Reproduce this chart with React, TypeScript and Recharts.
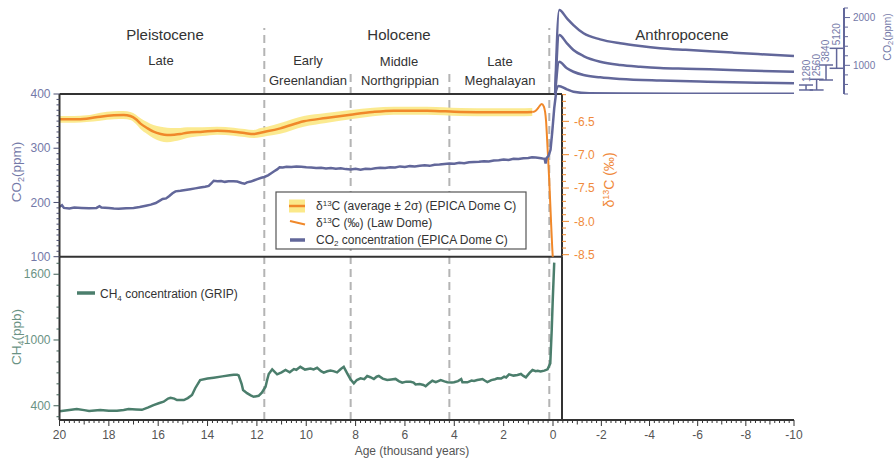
import React from 'react';
import { ComposedChart, Line, Area, Scatter, ErrorBar, XAxis, YAxis, ReferenceLine } from 'recharts';

const FONT = '"Liberation Sans", Arial, Helvetica, sans-serif';

// ---------------- data (age in thousand years BP) ----------------
const co2Epica: [number, number][] = [
  [20.0, 192], [19.9, 195], [19.82, 190], [19.6, 189], [19.4, 190.5], [19.1, 190], [18.8, 189.5], [18.5, 190],
  [18.38, 193], [18.3, 190.5], [18.0, 190], [17.8, 189], [17.6, 188.5], [17.3, 189.5], [17.0, 190], [16.75, 191.5],
  [16.5, 194], [16.3, 196], [16.1, 199], [15.95, 203], [15.82, 206.5], [15.68, 207.5], [15.55, 212], [15.42, 217],
  [15.3, 220.5], [15.1, 221.5], [14.9, 223], [14.7, 224.5], [14.5, 226], [14.3, 227.5], [14.1, 229], [13.95, 230.5],
  [13.85, 235], [13.75, 240], [13.6, 239], [13.45, 239.5], [13.3, 238], [13.15, 239], [12.95, 239], [12.8, 238.5],
  [12.62, 236], [12.5, 234.5], [12.4, 237], [12.25, 238.5], [12.13, 240.5], [11.98, 243], [11.82, 245.5], [11.7, 247],
  [11.55, 250], [11.42, 254], [11.3, 257.5], [11.18, 261], [11.08, 265], [10.95, 264.5], [10.8, 266], [10.6, 265.5],
  [10.4, 266.5], [10.2, 266], [10.0, 265], [9.8, 264.5], [9.6, 263.5], [9.4, 264], [9.2, 262.5], [9.0, 263.5],
  [8.8, 262], [8.6, 263], [8.4, 261.5], [8.2, 261], [8.0, 262], [7.8, 260.5], [7.6, 262], [7.4, 261.5], [7.2, 263],
  [7.0, 264], [6.8, 263.5], [6.6, 265], [6.4, 264.5], [6.2, 266.5], [6.0, 265.5], [5.8, 267], [5.6, 266.5],
  [5.4, 267.5], [5.2, 268.5], [5.0, 267.5], [4.8, 269.5], [4.6, 270], [4.4, 271], [4.2, 272], [4.0, 271.5],
  [3.8, 273], [3.6, 272.5], [3.4, 274], [3.2, 274.5], [3.0, 275], [2.8, 276], [2.6, 275.5], [2.4, 277.5], [2.2, 278],
  [2.0, 279], [1.8, 278.5], [1.6, 280.5], [1.4, 280], [1.2, 281.5], [1.0, 282], [0.85, 283.5], [0.7, 283],
  [0.55, 282], [0.42, 281], [0.34, 280.5], [0.3, 272], [0.26, 282], [0.18, 286], [0.1, 297], [0.03, 330],
  [-0.05, 374], [-0.12, 400],
];

// [age, mean δ13C, 2σ]
const d13cEpica: [number, number, number][] = [
  [20, -6.47, 0.05], [19.4, -6.47, 0.05], [18.9, -6.46, 0.05], [18.35, -6.43, 0.06], [17.8, -6.41, 0.06],
  [17.4, -6.405, 0.06], [17.13, -6.42, 0.06], [16.9, -6.47, 0.07], [16.73, -6.53, 0.08], [16.45, -6.6, 0.09],
  [16.19, -6.655, 0.1], [15.9, -6.69, 0.11], [15.64, -6.705, 0.11], [15.35, -6.7, 0.1], [15.1, -6.69, 0.09],
  [14.83, -6.67, 0.08], [14.2, -6.655, 0.065], [13.61, -6.64, 0.06], [12.94, -6.655, 0.06], [12.5, -6.675, 0.06],
  [12.13, -6.69, 0.06], [11.86, -6.67, 0.07], [11.59, -6.65, 0.07], [11.05, -6.605, 0.08], [10.1, -6.5, 0.08],
  [9.2, -6.45, 0.075], [8.2, -6.4, 0.07], [7.3, -6.36, 0.065], [6.45, -6.34, 0.06], [5.1, -6.34, 0.06],
  [3.75, -6.36, 0.06], [2.4, -6.365, 0.06], [1.5, -6.365, 0.06], [0.84, -6.36, 0.06],
];

const d13cLawDome: [number, number][] = [
  [0.84, -6.36], [0.7, -6.34], [0.6, -6.3], [0.46, -6.24], [0.37, -6.28], [0.28, -6.5], [0.22, -6.9],
  [0.15, -7.4], [0.08, -8.0], [0.03, -8.4], [-0.02, -8.7],
];

const ch4Grip: [number, number][] = [
  [20, 349], [19.6, 362], [19.3, 370], [19.0, 360], [18.8, 352], [18.35, 361], [18.0, 355], [17.67, 354],
  [17.4, 362], [17.2, 370], [16.9, 366], [16.66, 363], [16.4, 385], [16.19, 406], [15.95, 425], [15.78, 437],
  [15.6, 466], [15.5, 473], [15.35, 465], [15.24, 452], [14.96, 452], [14.8, 470], [14.63, 498], [14.5, 560],
  [14.3, 635], [14.0, 648], [13.75, 656], [13.4, 668], [13.1, 678], [12.94, 683], [12.8, 683], [12.74, 677],
  [12.62, 600], [12.56, 543], [12.4, 515], [12.25, 495], [12.13, 482], [11.93, 491], [11.8, 520], [11.65, 574],
  [11.58, 640], [11.52, 690], [11.38, 732], [11.18, 687], [11.0, 705], [10.84, 726], [10.67, 705], [10.5, 735],
  [10.4, 728], [10.24, 755], [10.05, 730], [9.83, 740], [9.7, 732], [9.56, 746], [9.4, 715], [9.29, 703],
  [9.15, 715], [9.02, 722], [8.9, 716], [8.75, 705], [8.6, 735], [8.48, 755], [8.34, 696], [8.2, 640],
  [8.07, 605], [7.95, 635], [7.8, 650], [7.65, 643], [7.53, 671], [7.4, 660], [7.26, 644], [7.15, 665],
  [7.06, 672], [6.9, 648], [6.72, 635], [6.55, 640], [6.38, 645], [6.25, 625], [6.11, 610], [5.95, 620],
  [5.77, 619], [5.65, 612], [5.57, 595], [5.4, 598], [5.25, 590], [5.16, 578], [5.05, 600], [4.89, 628],
  [4.75, 615], [4.55, 635], [4.4, 622], [4.28, 614], [4.1, 612], [4.01, 614], [3.85, 625], [3.72, 644],
  [3.67, 615], [3.47, 614], [3.3, 630], [3.2, 626], [3.07, 635], [2.95, 640], [2.86, 644], [2.75, 628],
  [2.66, 616], [2.5, 634], [2.35, 642], [2.25, 650], [2.1, 648], [1.98, 665], [1.9, 658], [1.78, 687],
  [1.6, 675], [1.44, 680], [1.3, 690], [1.2, 672], [1.1, 659], [0.95, 700], [0.83, 726], [0.7, 715],
  [0.62, 720], [0.5, 712], [0.35, 720], [0.22, 732], [0.11, 787], [0.05, 1100], [0.01, 1365], [-0.05, 1706],
];

// Anthropocene CO2 scenarios (age negative = future)
const anthro5120: [number, number][] = [
  [-0.08, 400], [-0.25, 2157], [-0.57, 1984], [-0.84, 1843], [-1.26, 1670], [-1.95, 1544], [-2.78, 1461],
  [-3.61, 1404], [-4.44, 1360], [-5.5, 1325], [-6.5, 1295], [-7.5, 1265], [-8.5, 1235], [-10, 1195],
];
const anthro3840: [number, number][] = [
  [-0.08, 400], [-0.25, 1634], [-0.57, 1461], [-0.84, 1320], [-1.26, 1195], [-1.95, 1076], [-2.78, 1007],
  [-3.61, 971], [-4.44, 945], [-5.5, 930], [-6.5, 918], [-8, 893], [-10, 866],
];
const anthro2560: [number, number][] = [
  [-0.08, 400], [-0.25, 1076], [-0.57, 938], [-0.84, 866], [-1.26, 797], [-1.95, 749], [-2.78, 714],
  [-4.44, 680], [-6.4, 657], [-8, 641], [-10, 624],
];
const anthro1280: [number, number][] = [
  [-0.08, 400], [-0.22, 567], [-0.57, 498], [-0.84, 448], [-1.5, 415], [-3, 410], [-6, 407], [-10, 405],
];

const scenarioLabels = ['1280', '2560', '3840', '5120'];
const scenarioAges = [-10.5, -10.94, -11.33, -11.77];
const scenarioLow = [484, 484, 693, 938];
const scenarioHigh = [588, 708, 1007, 1356];

// boundaries (ka)
const epochBoundaries = [11.7, 0.15];
const stageBoundaries = [8.2, 4.2];

// tick labels
const co2MajorTicks = [100, 200, 300, 400];
const d13cMajorTicks = [-8.5, -8, -7.5, -7, -6.5];
const ch4MajorTicks = [400, 1000, 1600];
const ageMajorTicksLeft = [20, 18, 16, 14, 12, 10, 8, 6, 4, 2, 0];
const ageMajorTicksRight = [-2, -4, -6, -8, -10];
const ageMediumTicks = [19, 17, 15, 13, 11, 9, 7, 5, 3, 1, -1, -3, -5, -7, -9];
const anthroMajorTicks = [1000, 2000];

// ---------------- layout ----------------
const W = 894;
const H = 458;
const LEFT = 59.5;
const PANEL_R = 562;
const AXIS_R = 794;
const TOP_Y = 94;
const MID_Y = 256.7;
const BOT_Y = 420;
const AGE_R = -0.365; // age at the panel's right edge
const ANTHRO_TOP = 8;
const ANTHRO_LEFT = 553.2;
const ANTHRO_RIGHT = 844;
const ANTHRO_AGE_R = -12.077;

// colours
const SLATE = '#62679a';
const SLATE_TEXT = '#7479a8';
const ORANGE = '#f0882a';
const ORANGE_TEXT = '#f08a3c';
const YELLOW = '#fbe98a';
const TEAL = '#4b7e6c';
const TEAL_TEXT = '#6a9284';
const FRAME = '#333';
const DASH = '#b4b4b4';
const TICK_TEXT = '#555';

const seq = (a: number, b: number, step: number): number[] => {
  const n = Math.round((b - a) / step);
  return Array.from({ length: n + 1 }, (_, i) => Math.round((a + i * step) * 1000) / 1000);
};

const toObj = (arr: [number, number][]) => arr.map(([age, v]) => ({ age, v }));

const co2Data = toObj(co2Epica);
const d13cData = d13cEpica.map(([age, m, s]) => ({ age, v: m, band: [m - s, m + s] }));
const lawData = toObj(d13cLawDome);
const ch4Data = toObj(ch4Grip);
const scenarioData = scenarioLabels.map((label, i) => ({
  age: scenarioAges[i],
  v: scenarioHigh[i],
  err: [scenarioHigh[i] - scenarioLow[i], 0],
  label,
}));
const dummy = [{ age: 5, v: 0.5 }, { age: 6, v: 0.5 }];

type TickCfg = {
  side: 'left' | 'right' | 'bottom';
  majors: number[];
  mediums?: number[];
  majorLen: number;
  mediumLen?: number;
  minorLen: number;
  gap: number;
  lineColor: string;
  textColor: string;
  fontSize: number;
  fmt?: (v: number) => string;
};

const AxisTick = (props: any) => {
  const { x, y, payload, cfg } = props as { x: number; y: number; payload: { value: number }; cfg: TickCfg };
  const v = payload.value;
  const has = (arr?: number[]) => !!arr && arr.some((m) => Math.abs(m - v) < 1e-6);
  const major = has(cfg.majors);
  const medium = has(cfg.mediums);
  const len = major ? cfg.majorLen : medium ? cfg.mediumLen ?? cfg.minorLen : cfg.minorLen;
  const label = major ? (cfg.fmt ? cfg.fmt(v) : String(v)) : null;
  const t = { fontSize: cfg.fontSize, fill: cfg.textColor, fontFamily: FONT };
  if (cfg.side === 'left') {
    return (
      <g>
        <line x1={x - len} y1={y} x2={x} y2={y} stroke={cfg.lineColor} strokeWidth={1} />
        {label !== null && (
          <text x={x - len - cfg.gap} y={y} dy="0.35em" textAnchor="end" {...t}>{label}</text>
        )}
      </g>
    );
  }
  if (cfg.side === 'right') {
    return (
      <g>
        <line x1={x} y1={y} x2={x + len} y2={y} stroke={cfg.lineColor} strokeWidth={1} />
        {label !== null && (
          <text x={x + len + cfg.gap} y={y} dy="0.35em" textAnchor="start" {...t}>{label}</text>
        )}
      </g>
    );
  }
  return (
    <g>
      <line x1={x} y1={y} x2={x} y2={y + len} stroke={cfg.lineColor} strokeWidth={1} />
      {label !== null && (
        <text x={x} y={y + len + cfg.gap} dy="0.71em" textAnchor="middle" {...t}>{label}</text>
      )}
    </g>
  );
};

const co2TickCfg: TickCfg = { side: 'left', majors: co2MajorTicks, majorLen: 6, minorLen: 3, gap: 3, lineColor: '#4a4e70', textColor: SLATE_TEXT, fontSize: 12 };
const d13cTickCfg: TickCfg = { side: 'right', majors: d13cMajorTicks, majorLen: 7, minorLen: 4, gap: 5, lineColor: ORANGE, textColor: ORANGE_TEXT, fontSize: 12, fmt: (v) => v.toFixed(1) };
const ch4TickCfg: TickCfg = { side: 'left', majors: ch4MajorTicks, majorLen: 6, minorLen: 3, gap: 3, lineColor: '#3f5e54', textColor: TEAL_TEXT, fontSize: 12 };
const ageTickCfg: TickCfg = { side: 'bottom', majors: [...ageMajorTicksLeft, ...ageMajorTicksRight], mediums: ageMediumTicks, majorLen: 6, mediumLen: 4.5, minorLen: 3, gap: 4, lineColor: FRAME, textColor: TICK_TEXT, fontSize: 12 };
const anthroTickCfg: TickCfg = { side: 'right', majors: anthroMajorTicks, majorLen: 6, minorLen: 4, gap: 3, lineColor: SLATE, textColor: SLATE_TEXT, fontSize: 10 };

const layer: React.CSSProperties = { position: 'absolute', left: 0, top: 0 };
const frameLine = { stroke: FRAME, strokeWidth: 2 };

const ScenarioLabel = (p: any) => {
  const x = p.cx;
  const y = p.cy - 3;
  return (
    <text x={x} y={y} dy="0.35em" transform={`rotate(-90 ${x} ${y})`} fontSize={10} fill={SLATE_TEXT} fontFamily={FONT}>
      {p.payload.label}
    </text>
  );
};

const BoundaryLayer = ({ top, ages }: { top: number; ages: number[] }) => (
  <div style={layer}>
    <ComposedChart width={W} height={H} margin={{ top, right: W - PANEL_R, bottom: H - BOT_Y, left: LEFT }}>
      <XAxis type="number" dataKey="age" domain={[AGE_R, 20]} reversed allowDataOverflow hide />
      <YAxis type="number" domain={[0, 1]} allowDataOverflow hide />
      <Line data={dummy} dataKey="v" stroke="none" dot={false} activeDot={false} isAnimationActive={false} />
      {ages.map((a) => (
        <ReferenceLine key={a} x={a} stroke={DASH} strokeWidth={2} strokeDasharray="8 5" ifOverflow="visible" />
      ))}
    </ComposedChart>
  </div>
);

export default function App() {
  return (
    <div style={{ position: 'absolute', left: 0, top: 0, width: W, height: H, background: '#fff', overflow: 'hidden' }}>
      <BoundaryLayer top={28} ages={epochBoundaries} />
      <BoundaryLayer top={73} ages={stageBoundaries} />

      {/* top panel: CO2 and δ13C */}
      <div style={layer}>
        <ComposedChart width={W} height={H} margin={{ top: TOP_Y, right: 0, bottom: H - MID_Y, left: 0 }}>
          <XAxis type="number" dataKey="age" domain={[AGE_R, 20]} reversed allowDataOverflow hide />
          <YAxis
            yAxisId="co2"
            orientation="left"
            width={LEFT}
            domain={[100, 400]}
            allowDataOverflow
            ticks={seq(100, 400, 10)}
            interval={0}
            tickSize={0}
            tickMargin={0}
            tickLine={false}
            axisLine={frameLine}
            tick={<AxisTick cfg={co2TickCfg} />}
          />
          <YAxis
            yAxisId="d13c"
            orientation="right"
            width={W - PANEL_R}
            domain={[-8.53, -6.09]}
            allowDataOverflow
            ticks={seq(-8.5, -6.1, 0.1)}
            interval={0}
            tickSize={0}
            tickMargin={0}
            tickLine={false}
            axisLine={frameLine}
            tick={<AxisTick cfg={d13cTickCfg} />}
          />
          <ReferenceLine yAxisId="co2" y={400} {...frameLine} ifOverflow="visible" />
          <ReferenceLine yAxisId="co2" y={100} {...frameLine} ifOverflow="visible" />
          <Area
            yAxisId="d13c"
            data={d13cData}
            dataKey="band"
            type="monotoneX"
            stroke="none"
            fill={YELLOW}
            fillOpacity={0.95}
            isAnimationActive={false}
          />
          <Line yAxisId="d13c" data={d13cData} dataKey="v" type="monotoneX" stroke={ORANGE} strokeWidth={2.5} dot={false} activeDot={false} isAnimationActive={false} />
          <Line yAxisId="d13c" data={lawData} dataKey="v" type="monotoneX" stroke={ORANGE} strokeWidth={2} dot={false} activeDot={false} isAnimationActive={false} />
          <Line yAxisId="co2" data={co2Data} dataKey="v" type="linear" stroke={SLATE} strokeWidth={2.5} dot={false} activeDot={false} isAnimationActive={false} />
        </ComposedChart>
      </div>

      {/* bottom panel: CH4 and age axis (0..20 ka) */}
      <div style={layer}>
        <ComposedChart width={W} height={H} margin={{ top: MID_Y, right: W - PANEL_R, bottom: 0, left: 0 }}>
          <XAxis
            type="number"
            dataKey="age"
            domain={[AGE_R, 20]}
            reversed
            allowDataOverflow
            height={H - BOT_Y}
            ticks={seq(-0.2, 20, 0.2)}
            interval={0}
            tickSize={0}
            tickMargin={0}
            tickLine={false}
            axisLine={frameLine}
            tick={<AxisTick cfg={ageTickCfg} />}
          />
          <YAxis
            orientation="left"
            width={LEFT}
            domain={[270, 1760]}
            allowDataOverflow
            ticks={seq(300, 1700, 100)}
            interval={0}
            tickSize={0}
            tickMargin={0}
            tickLine={false}
            axisLine={frameLine}
            tick={<AxisTick cfg={ch4TickCfg} />}
          />
          <ReferenceLine x={AGE_R} {...frameLine} ifOverflow="visible" />
          <Line data={ch4Data} dataKey="v" type="linear" stroke={TEAL} strokeWidth={2.5} dot={false} activeDot={false} isAnimationActive={false} />
        </ComposedChart>
      </div>

      {/* age axis continuation (future) */}
      <div style={layer}>
        <ComposedChart width={W} height={H} data={[{ age: -5, v: 0 }]} margin={{ top: MID_Y, right: W - AXIS_R, bottom: 0, left: PANEL_R }}>
          <XAxis
            type="number"
            dataKey="age"
            domain={[-10, AGE_R]}
            reversed
            allowDataOverflow
            height={H - BOT_Y}
            ticks={seq(-10, -0.4, 0.2)}
            interval={0}
            tickSize={0}
            tickMargin={0}
            tickLine={false}
            axisLine={frameLine}
            tick={<AxisTick cfg={ageTickCfg} />}
          />
          <YAxis type="number" domain={[0, 1]} allowDataOverflow hide />
        </ComposedChart>
      </div>

      {/* Anthropocene CO2 scenarios */}
      <div style={layer}>
        <ComposedChart width={W} height={H} margin={{ top: ANTHRO_TOP, right: 0, bottom: H - TOP_Y, left: ANTHRO_LEFT }}>
          <XAxis type="number" dataKey="age" domain={[ANTHRO_AGE_R, 0]} reversed allowDataOverflow hide />
          <YAxis
            orientation="right"
            width={W - ANTHRO_RIGHT}
            domain={[400, 2200]}
            allowDataOverflow
            ticks={seq(400, 2200, 200)}
            interval={0}
            tickSize={0}
            tickMargin={0}
            tickLine={false}
            axisLine={{ stroke: SLATE, strokeWidth: 2 }}
            tick={<AxisTick cfg={anthroTickCfg} />}
          />
          {[anthro5120, anthro3840, anthro2560, anthro1280].map((s, i) => (
            <Line
              key={i}
              data={toObj(s)}
              dataKey="v"
              type="monotoneX"
              stroke={SLATE}
              strokeWidth={2.5}
              dot={false}
              activeDot={false}
              isAnimationActive={false}
            />
          ))}
          <Scatter data={scenarioData} dataKey="v" shape={<ScenarioLabel />} isAnimationActive={false}>
            <ErrorBar dataKey="err" direction="y" width={7} stroke={SLATE} strokeWidth={1.5} />
          </Scatter>
        </ComposedChart>
      </div>

      {/* texts and legends */}
      <svg width={W} height={H} style={layer} fontFamily={FONT}>
        <g fill="#333" fontSize={15} textAnchor="middle">
          <text x={165} y={39.5}>Pleistocene</text>
          <text x={399} y={39.5}>Holocene</text>
          <text x={682} y={39.5}>Anthropocene</text>
        </g>
        <g fill="#333" fontSize={13} textAnchor="middle">
          <text x={161} y={64.5}>Late</text>
          <text x={308} y={64.5}>Early</text>
          <text x={399} y={65.5}>Middle</text>
          <text x={500} y={65.5}>Late</text>
          <text x={308} y={85}>Greenlandian</text>
          <text x={400} y={85}>Northgrippian</text>
          <text x={500} y={85}>Meghalayan</text>
        </g>

        <text x={412} y={455} fontSize={12} fill={TICK_TEXT} textAnchor="middle">Age (thousand years)</text>

        <text x={21} y={172} fontSize={13.5} fill={SLATE_TEXT} textAnchor="middle" transform="rotate(-90 21 172)">
          CO<tspan fontSize={9} dy={3}>2</tspan><tspan dy={-3}>(ppm)</tspan>
        </text>
        <text x={21} y={337} fontSize={13.5} fill={TEAL_TEXT} textAnchor="middle" transform="rotate(-90 21 337)">
          CH<tspan fontSize={9} dy={3}>4</tspan><tspan dy={-3}>(ppb)</tspan>
        </text>
        <text x={614} y={180} fontSize={14} fill={ORANGE_TEXT} textAnchor="middle" transform="rotate(-90 614 180)">
          δ<tspan fontSize={9} dy={-5}>13</tspan><tspan dy={5}>C (‰)</tspan>
        </text>
        <text x={891} y={37} fontSize={10.5} fill={SLATE_TEXT} textAnchor="middle" transform="rotate(-90 891 37)">
          CO<tspan fontSize={7.5} dy={2}>2</tspan><tspan dy={-2}>(ppm)</tspan>
        </text>

        {/* top legend */}
        <rect x={276} y={192} width={250} height={57} fill="#fff" stroke="#555" strokeWidth={1.2} />
        <rect x={289} y={199.5} width={16} height={13} fill={YELLOW} />
        <line x1={289} y1={206} x2={305} y2={206} stroke={ORANGE} strokeWidth={2.5} />
        <line x1={290} y1={221} x2={305} y2={224.5} stroke={ORANGE} strokeWidth={2} />
        <line x1={290} y1={240} x2={305} y2={240} stroke={SLATE} strokeWidth={3.5} />
        <g fontSize={12} fill="#333">
          <text x={316} y={209.5}>
            δ<tspan fontSize={8} dy={-4}>13</tspan><tspan dy={4}>C (average ± 2σ) (EPICA Dome C)</tspan>
          </text>
          <text x={316} y={227}>
            δ<tspan fontSize={8} dy={-4}>13</tspan><tspan dy={4}>C (‰) (Law Dome)</tspan>
          </text>
          <text x={316} y={244}>
            CO<tspan fontSize={8} dy={2}>2</tspan><tspan dy={-2}> concentration (EPICA Dome C)</tspan>
          </text>
        </g>

        {/* CH4 legend */}
        <line x1={77} y1={293} x2={95} y2={293} stroke={TEAL} strokeWidth={3.5} />
        <text x={100} y={297.5} fontSize={12} fill="#333">
          CH<tspan fontSize={8} dy={3}>4</tspan><tspan dy={-3}> concentration (GRIP)</tspan>
        </text>
      </svg>
    </div>
  );
}
